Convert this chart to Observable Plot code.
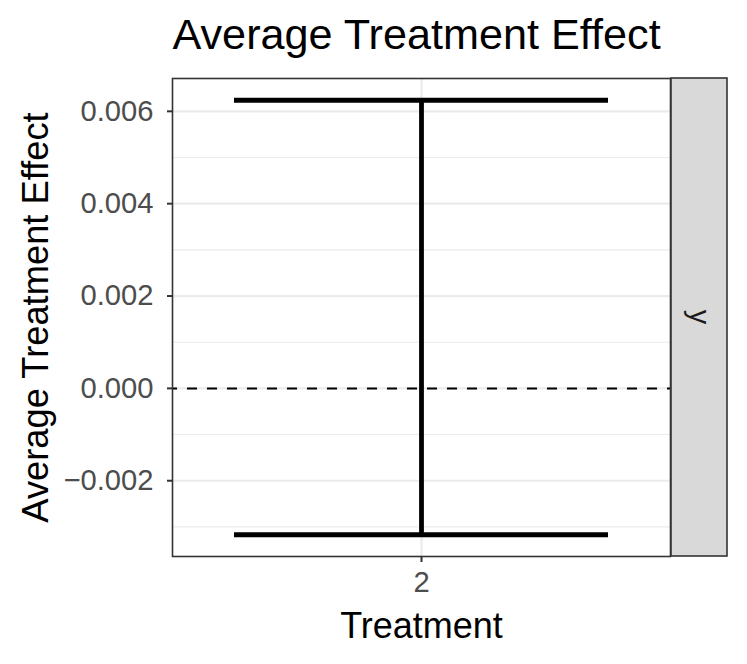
<!DOCTYPE html>
<html>
<head>
<meta charset="utf-8">
<script src="https://cdn.jsdelivr.net/npm/d3@7"></script>
<script src="https://cdn.jsdelivr.net/npm/@observablehq/plot@0.6"></script>
<style>
  html, body { margin: 0; padding: 0; background: #fff; }
  #chart svg { display: block; }
</style>
</head>
<body>
<div id="chart"></div>
<script>
// Data
const treatments = ["2"];
const estimates = [0.00154];
const lower = [-0.00317];
const upper = [0.00624];
const facetLabels = ["y"];
const yMajorTicks = [-0.002, 0, 0.002, 0.004, 0.006];
const yMinorTicks = [-0.003, -0.001, 0.001, 0.003, 0.005];
const titleText = "Average Treatment Effect";
const xTitle = "Treatment";
const yTitle = "Average Treatment Effect";

const rows = treatments.map((t, i) => ({treatment: t, est: estimates[i], lo: lower[i], hi: upper[i]}));

const FONT = "'Liberation Sans', Arial, Helvetica, sans-serif";
const W = 747, H = 664;
const mL = 172, mR = 77, mT = 78, mB = 108;

const fmt = d => d === 0 ? "0.000" : (d < 0 ? "\u2212" + Math.abs(d).toFixed(3) : d.toFixed(3));

const strip = (index, scales, values, dims) => {
  const g = d3.create("svg:g");
  const x0 = dims.width - dims.marginRight + 1;
  const sw = 56;
  const y0 = dims.marginTop, y1 = dims.height - dims.marginBottom;
  g.append("rect")
    .attr("x", x0).attr("y", y0).attr("width", sw).attr("height", y1 - y0)
    .attr("fill", "#D9D9D9").attr("stroke", "#333333").attr("stroke-width", 1.6);
  g.append("text")
    .attr("transform", `translate(${x0 + sw / 2},${(y0 + y1) / 2}) rotate(90)`)
    .attr("text-anchor", "middle").attr("dy", "0.32em")
    .attr("font-family", FONT).attr("font-size", 29).attr("fill", "#1A1A1A")
    .text(facetLabels[0]);
  return g.node();
};

const chart = Plot.plot({
  width: W,
  height: H,
  marginLeft: mL,
  marginRight: mR,
  marginTop: mT,
  marginBottom: mB,
  style: {fontFamily: FONT, background: "#fff", overflow: "visible"},
  x: {type: "band", domain: treatments, paddingInner: 0.1, paddingOuter: 0.15, label: null},
  y: {domain: [-0.003641, 0.006711], label: null},
  marks: [
    Plot.gridY(yMinorTicks, {stroke: "#EBEBEB", strokeOpacity: 1, strokeWidth: 1.1}),
    Plot.gridY(yMajorTicks, {stroke: "#EBEBEB", strokeOpacity: 1, strokeWidth: 2.2}),
    Plot.gridX(treatments, {stroke: "#EBEBEB", strokeOpacity: 1, strokeWidth: 2.2}),
    Plot.ruleY([0], {stroke: "#000", strokeWidth: 2, strokeDasharray: "10,10", strokeDashoffset: 5}),
    Plot.ruleX(rows, {x: "treatment", y1: "lo", y2: "hi", stroke: "#000", strokeWidth: 4.8}),
    Plot.tickY(rows, {x: "treatment", y: "hi", stroke: "#000", strokeWidth: 4.8}),
    Plot.tickY(rows, {x: "treatment", y: "lo", stroke: "#000", strokeWidth: 4.8}),
    Plot.axisY(yMajorTicks, {tickSize: 5, tickPadding: 14, stroke: "#333333", strokeWidth: 2, fontSize: 29.2, fill: "#4D4D4D", tickFormat: fmt, label: null}),
    Plot.axisX(treatments, {tickSize: 6, tickPadding: 9, stroke: "#333333", strokeWidth: 2, fontSize: 29.2, fill: "#4D4D4D", label: null}),
    Plot.frame({stroke: "#333333", strokeWidth: 1.6}),
    strip,
    Plot.text([titleText], {frameAnchor: "top-left", textAnchor: "start", lineAnchor: "bottom", dy: -30, fontSize: 43.2, fill: "#000"}),
    Plot.text([xTitle], {frameAnchor: "bottom", textAnchor: "middle", lineAnchor: "bottom", dy: 81, fontSize: 36, fill: "#000"}),
    Plot.text([yTitle], {frameAnchor: "left", textAnchor: "middle", lineAnchor: "bottom", rotate: -90, dx: -125, fontSize: 36.3, fill: "#000"})
  ]
});
document.getElementById("chart").appendChild(chart);
</script>
</body>
</html>
